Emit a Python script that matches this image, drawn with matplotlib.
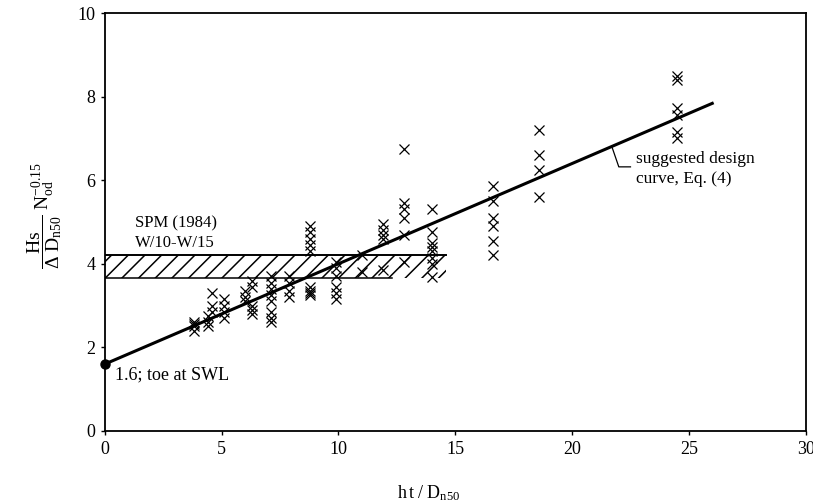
import matplotlib
matplotlib.use("Agg")
import matplotlib.pyplot as plt
import numpy as np

plt.rcParams['font.family'] = ['Liberation Serif', 'DejaVu Serif']
plt.rcParams['mathtext.fontset'] = 'custom'
plt.rcParams['mathtext.rm'] = 'Liberation Serif'
plt.rcParams['mathtext.it'] = 'Liberation Serif:italic'
plt.rcParams['hatch.linewidth'] = 1.1

# measured points (ht/Dn50, Hs/(Delta Dn50) * Nod^-0.15)
x_pts = [3.8, 3.8, 3.8, 3.8,
         4.4, 4.4, 4.4,
         4.6, 4.6, 4.6,
         5.1, 5.1, 5.1, 5.1,
         6.0, 6.0, 6.0,
         6.3, 6.3, 6.3, 6.3, 6.3,
         7.1, 7.1, 7.1, 7.1, 7.1, 7.1, 7.1, 7.1,
         7.9, 7.9, 7.9, 7.9,
         8.8, 8.8, 8.8, 8.8, 8.8, 8.8, 8.8, 8.8, 8.8,
         9.9, 9.9, 9.9, 9.9, 9.9, 9.9,
         11.0, 11.0,
         11.9, 11.9, 11.9, 11.9, 11.9,
         12.8, 12.8, 12.8, 12.8, 12.8, 12.8,
         14.0, 14.0, 14.0, 14.0, 14.0, 14.0, 14.0, 14.0,
         16.6, 16.6, 16.6, 16.6, 16.6, 16.6,
         18.6, 18.6, 18.6, 18.6,
         24.5, 24.5, 24.5, 24.5, 24.5, 24.5]
y_pts = [2.6, 2.5, 2.4, 2.55,
         2.75, 2.6, 2.5,
         3.3, 3.0, 2.85,
         3.15, 3.0, 2.85, 2.7,
         3.35, 3.2, 3.1,
         3.6, 3.45, 3.0, 2.9, 2.8,
         3.7, 3.55, 3.4, 3.25, 3.1, 2.85, 2.7, 2.6,
         3.7, 3.55, 3.35, 3.2,
         4.9, 4.75, 4.6, 4.45, 4.3, 3.45, 3.35, 3.3, 3.25,
         4.05, 3.9, 3.7, 3.45, 3.3, 3.15,
         4.2, 3.8,
         4.95, 4.8, 4.7, 4.6, 3.85,
         6.75, 5.45, 5.3, 5.1, 4.7, 4.05,
         5.3, 4.75, 4.5, 4.4, 4.3, 4.15, 4.0, 3.68,
         5.85, 5.5, 5.1, 4.9, 4.55, 4.2,
         7.2, 6.6, 6.25, 5.6,
         8.5, 8.4, 7.72, 7.55, 7.15, 7.0]

# design curve Eq. (4): 0.24 * ht/Dn50 + 1.6
curve_x = [0, 26]
curve_a, curve_b = 0.24, 1.6

# SPM (1984) band W/10 - W/15
spm_upper, spm_lower = 4.2, 3.66
spm_upper_end, spm_lower_end = 14.6, 12.3

fig = plt.figure(figsize=(8.13, 5.04), dpi=100)
ax = fig.add_axes([0.129, 0.145, 0.862, 0.829])

# hatched band
ax.fill_between([0, spm_upper_end], spm_lower, spm_upper, facecolor='none',
                edgecolor='black', hatch='//', linewidth=0)
ax.plot([0, spm_upper_end], [spm_upper, spm_upper], color='black', lw=1.4)
ax.plot([0, spm_lower_end], [spm_lower, spm_lower], color='black', lw=1.1)

# data points
ax.plot(x_pts, y_pts, linestyle='none', marker='x', color='black',
        markersize=6.5, markeredgewidth=0.9)

# design curve
cx = np.array(curve_x, dtype=float)
ax.plot(cx, curve_a * cx + curve_b, color='black', lw=2.2)
ax.plot([0], [curve_b], marker='o', color='black', markersize=6.5, clip_on=False, zorder=5)

# annotations
ax.text(1.3, 4.74, 'SPM (1984)\nW/10-W/15', fontsize=12, va='center', ha='left', linespacing=1.3)
ax.text(0.45, 1.34, '1.6; toe at SWL', fontsize=13, va='center', ha='left')
ax.text(22.75, 6.27, 'suggested design\ncurve, Eq. (4)', fontsize=12.5, va='center', ha='left', linespacing=1.35)
lx = 21.7
ax.plot([lx, 22.0, 22.5], [curve_a * lx + curve_b, 6.32, 6.32], color='black', lw=0.9)

ax.set_xlim(0, 30)
ax.set_ylim(0, 10)
ax.set_xticks([0, 5, 10, 15, 20, 25, 30])
ax.set_yticks([0, 2, 4, 6, 8, 10])
ax.tick_params(direction='out', length=3, width=1, labelsize=13, pad=4)
for s in ax.spines.values():
    s.set_linewidth(1.3)

fig.text(0.527, 0.022, r'$\mathrm{h\,t\ /\ D_{n50}}$', fontsize=13, ha='center', va='center')
fig.text(0.055, 0.573, r'$\dfrac{\mathrm{Hs}}{\Delta\ \mathrm{D_{n50}}}\ \mathrm{N_{od}^{-0.15}}$',
         fontsize=14, rotation=90, ha='center', va='center')

fig.savefig('out.png', dpi=100)
